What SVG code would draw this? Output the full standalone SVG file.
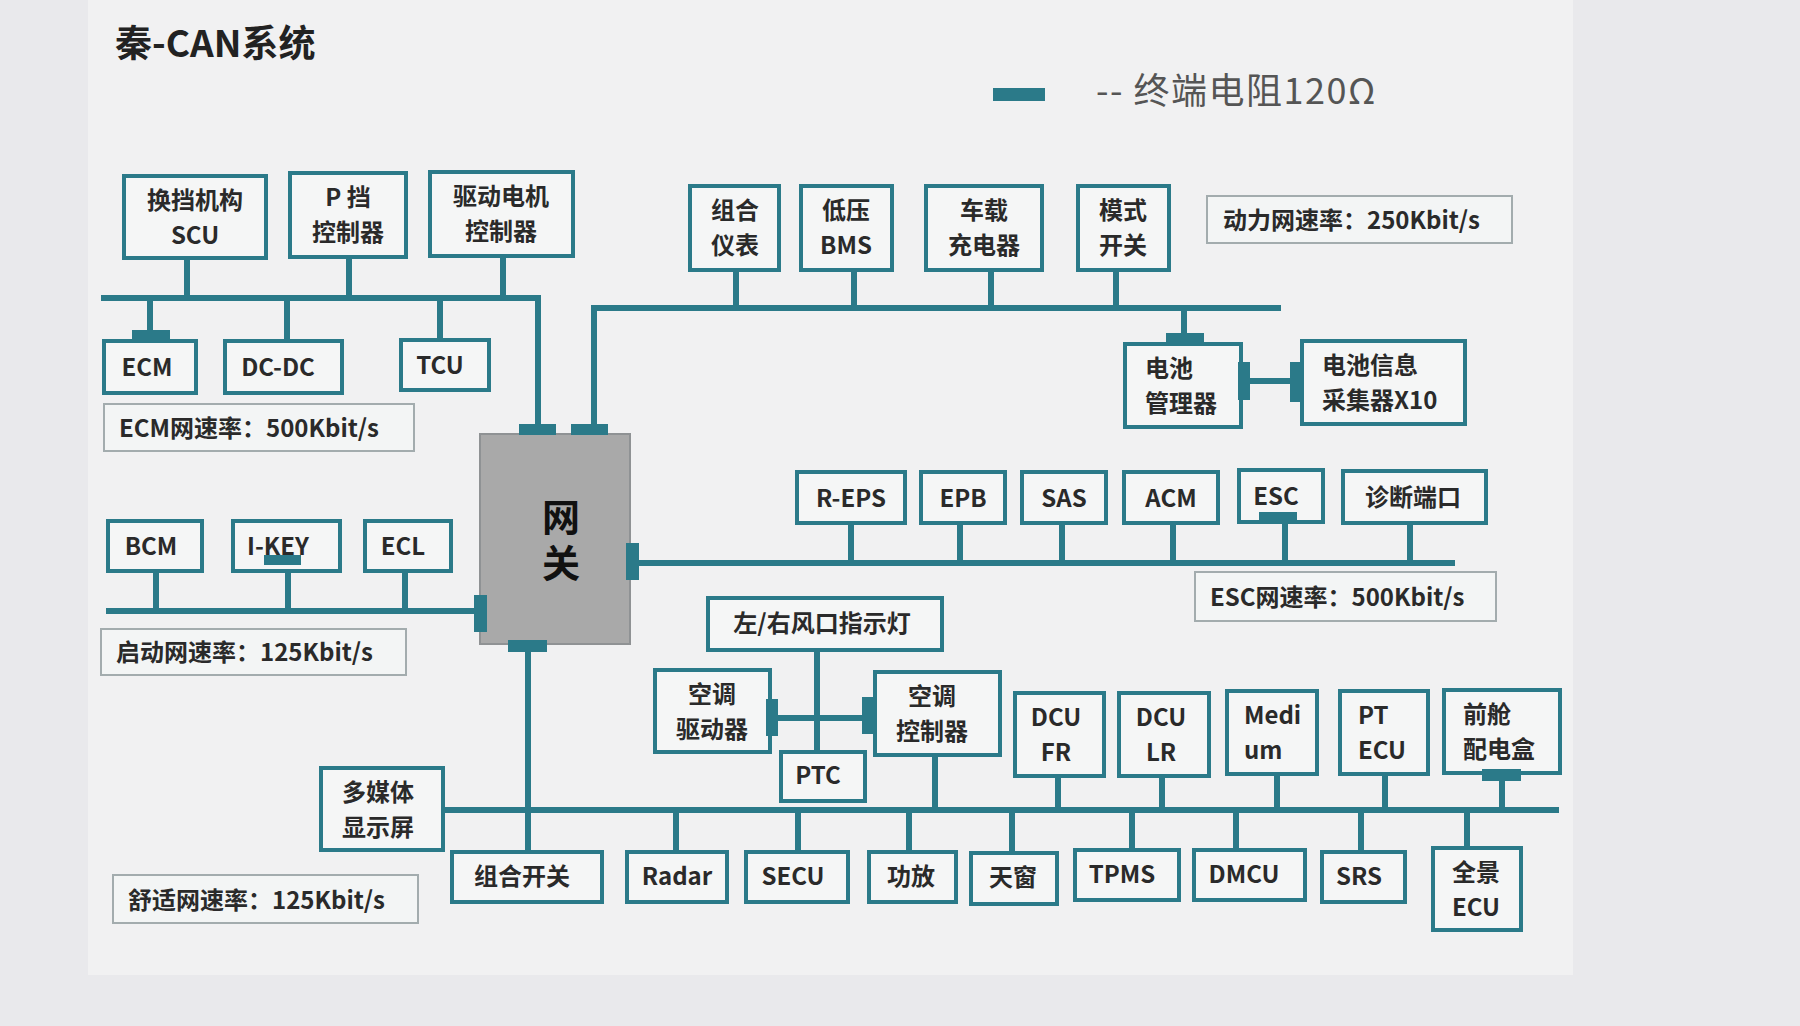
<svg xmlns="http://www.w3.org/2000/svg" width="1800" height="1026" viewBox="0 0 1800 1026">
<style>
.n rect.b{fill:#f5f6f6;stroke:#2b7a89;stroke-width:4}
.n text,.s text{font-family:"Noto Sans CJK SC","Noto Sans",sans-serif;font-weight:bold;font-size:24px;fill:#2a2a2a;text-anchor:middle}
.n text.l,.s text{text-anchor:start}
.s rect{fill:#f3f5f5;stroke:#a3acae;stroke-width:2}
.s text{font-size:24px}
.bus{stroke:#2b7a89;stroke-width:6;fill:none}
.term{fill:#2b7a89}
</style>
<rect x="0" y="0" width="1800" height="1026" fill="#e9e9ec"/>
<rect x="88" y="0" width="1485" height="975" fill="#f1f1f2"/>
<text x="115" y="57" font-family="'Noto Sans CJK SC',sans-serif" font-weight="bold" font-size="37" fill="#222">秦-CAN系统</text>
<g id="legend">
<rect x="993" y="88" width="52" height="13" class="term"/>
<text x="1096" y="104" font-family="'Noto Sans CJK SC',sans-serif" font-size="36" letter-spacing="1.5" fill="#555">-- 终端电阻120Ω</text>
</g>
<g id="connectors">
<path class="bus" d="M101 298H538V424M187 258V298M349 257V298M503 256V298M150 298V330M287 298V341M440 298V340"/>
<path class="bus" d="M594 424V308H1281M736 270V308M854 270V308M991 270V308M1116 270V308M1184 308V333M1250 381H1290"/>
<path class="bus" d="M639 563H1455M851 523V563M960 523V563M1062 523V563M1173 523V563M1285 522V563M1410 523V563"/>
<path class="bus" d="M106 611H474M156 571V611M288 571V611M405 571V611"/>
<path class="bus" d="M443 810H1559M528 652V852M676 810V852M798 810V852M909 810V852M1012 810V853M1132 810V850M1236 810V850M1361 810V852M1467 810V848M935 755V810M1058 776V810M1162 776V810M1277 774V810M1385 774V810M1502 781V810"/>
<path class="bus" d="M817 650V752M778 718H862"/>
</g>
<g id="gateway">
<rect x="480" y="434" width="150" height="210" fill="#a9a9a9" stroke="#8f9294" stroke-width="2"/>
<text x="561" y="544" writing-mode="tb" glyph-orientation-vertical="0" text-anchor="middle" letter-spacing="8" font-family="'Noto Sans CJK SC',sans-serif" font-weight="bold" font-size="38" fill="#111">网关</text>
<rect class="term" x="519" y="424" width="37" height="11"/>
<rect class="term" x="571" y="424" width="37" height="11"/>
<rect class="term" x="626" y="543" width="13" height="37"/>
<rect class="term" x="474" y="595" width="13" height="37"/>
<rect class="term" x="508" y="640" width="39" height="12"/>
</g>
<g id="scu" class="n"><rect class="b" x="124" y="176" width="142" height="82"/><text x="195" y="209">换挡机构<tspan x="195" dy="35">SCU</tspan></text></g>
<g id="pgear" class="n"><rect class="b" x="290" y="173" width="116" height="84"/><text x="348" y="206">P 挡<tspan x="348" dy="35">控制器</tspan></text></g>
<g id="motor" class="n"><rect class="b" x="430" y="172" width="143" height="84"/><text x="501" y="205">驱动电机<tspan x="501" dy="35">控制器</tspan></text></g>
<g id="ecm" class="n"><rect class="b" x="104" y="341" width="92" height="52"/><text x="147" y="376">ECM</text><rect class="term" x="132" y="330" width="38" height="11"/></g>
<g id="dcdc" class="n"><rect class="b" x="225" y="341" width="117" height="52"/><text x="278" y="376">DC-DC</text></g>
<g id="tcu" class="n"><rect class="b" x="401" y="340" width="88" height="50"/><text x="440" y="374">TCU</text></g>
<g id="ecm-speed" class="s"><rect x="104" y="404" width="310" height="47"/><text x="119" y="437">ECM网速率：500Kbit/s</text></g>
<g id="cluster" class="n"><rect class="b" x="690" y="186" width="89" height="84"/><text x="735" y="219">组合<tspan x="735" dy="35">仪表</tspan></text></g>
<g id="bms" class="n"><rect class="b" x="801" y="186" width="91" height="84"/><text x="846" y="219">低压<tspan x="846" dy="35">BMS</tspan></text></g>
<g id="charger" class="n"><rect class="b" x="926" y="186" width="116" height="84"/><text x="984" y="219">车载<tspan x="984" dy="35">充电器</tspan></text></g>
<g id="mode" class="n"><rect class="b" x="1078" y="186" width="91" height="84"/><text x="1123" y="219">模式<tspan x="1123" dy="35">开关</tspan></text></g>
<g id="bmu" class="n"><rect class="b" x="1125" y="344" width="116" height="83"/><text class="l" x="1145" y="377">电池<tspan x="1145" dy="35">管理器</tspan></text><rect class="term" x="1166" y="333" width="38" height="11"/><rect class="term" x="1238" y="362" width="12" height="38"/></g>
<g id="bic" class="n"><rect class="b" x="1302" y="341" width="163" height="83"/><text class="l" x="1322" y="374">电池信息<tspan x="1322" dy="35">采集器X10</tspan></text><rect class="term" x="1290" y="362" width="12" height="40"/></g>
<g id="power-speed" class="s"><rect x="1207" y="196" width="305" height="47"/><text x="1223" y="229">动力网速率：250Kbit/s</text></g>
<g id="reps" class="n"><rect class="b" x="797" y="472" width="108" height="51"/><text x="851" y="507">R-EPS</text></g>
<g id="epb" class="n"><rect class="b" x="921" y="472" width="84" height="51"/><text x="963" y="507">EPB</text></g>
<g id="sas" class="n"><rect class="b" x="1022" y="472" width="84" height="51"/><text x="1064" y="507">SAS</text></g>
<g id="acm" class="n"><rect class="b" x="1124" y="472" width="94" height="51"/><text x="1171" y="507">ACM</text></g>
<g id="esc" class="n"><rect class="b" x="1239" y="470" width="84" height="52"/><text x="1276" y="505">ESC</text><rect class="term" x="1259" y="512" width="38" height="10"/></g>
<g id="diag" class="n"><rect class="b" x="1343" y="471" width="143" height="52"/><text x="1413" y="506">诊断端口</text></g>
<g id="esc-speed" class="s"><rect x="1195" y="572" width="301" height="49"/><text x="1210" y="606">ESC网速率：500Kbit/s</text></g>
<g id="bcm" class="n"><rect class="b" x="108" y="521" width="94" height="50"/><text x="151" y="555">BCM</text></g>
<g id="ikey" class="n"><rect class="b" x="233" y="521" width="107" height="50"/><text x="278" y="555">I-KEY</text><rect class="term" x="264" y="555" width="37" height="10"/></g>
<g id="ecl" class="n"><rect class="b" x="365" y="521" width="86" height="50"/><text x="403" y="555">ECL</text></g>
<g id="start-speed" class="s"><rect x="101" y="629" width="305" height="46"/><text x="116" y="661">启动网速率：125Kbit/s</text></g>
<g id="vent" class="n"><rect class="b" x="708" y="598" width="234" height="52"/><text x="822" y="632">左/右风口指示灯</text></g>
<g id="acdrv" class="n"><rect class="b" x="655" y="670" width="115" height="82"/><text x="712" y="703">空调<tspan x="712" dy="35">驱动器</tspan></text><rect class="term" x="766" y="699" width="12" height="37"/></g>
<g id="acctl" class="n"><rect class="b" x="875" y="672" width="125" height="83"/><text x="932" y="705">空调<tspan x="932" dy="35">控制器</tspan></text><rect class="term" x="862" y="697" width="13" height="37"/></g>
<g id="ptc" class="n"><rect class="b" x="781" y="752" width="84" height="49"/><text x="818" y="784">PTC</text></g>
<g id="dcufr" class="n"><rect class="b" x="1015" y="693" width="89" height="83"/><text x="1056" y="726">DCU<tspan x="1056" dy="35">FR</tspan></text></g>
<g id="dculr" class="n"><rect class="b" x="1119" y="693" width="90" height="83"/><text x="1161" y="726">DCU<tspan x="1161" dy="35">LR</tspan></text></g>
<g id="medium" class="n"><rect class="b" x="1227" y="691" width="90" height="83"/><text class="l" x="1244" y="724">Medi<tspan x="1244" dy="35">um</tspan></text></g>
<g id="ptecu" class="n"><rect class="b" x="1340" y="691" width="88" height="83"/><text class="l" x="1358" y="724">PT<tspan x="1358" dy="35">ECU</tspan></text></g>
<g id="fbox" class="n"><rect class="b" x="1444" y="690" width="116" height="83"/><text class="l" x="1463" y="723">前舱<tspan x="1463" dy="35">配电盒</tspan></text><rect class="term" x="1482" y="769" width="39" height="12"/></g>
<g id="media" class="n"><rect class="b" x="321" y="768" width="122" height="82"/><text x="378" y="801">多媒体<tspan x="378" dy="35">显示屏</tspan></text></g>
<g id="combsw" class="n"><rect class="b" x="452" y="852" width="150" height="50"/><text x="522" y="885">组合开关</text></g>
<g id="radar" class="n"><rect class="b" x="627" y="852" width="100" height="50"/><text x="677" y="885">Radar</text></g>
<g id="secu" class="n"><rect class="b" x="746" y="852" width="102" height="50"/><text x="793" y="885">SECU</text></g>
<g id="amp" class="n"><rect class="b" x="869" y="852" width="87" height="50"/><text x="911" y="885">功放</text></g>
<g id="sunroof" class="n"><rect class="b" x="971" y="853" width="86" height="51"/><text x="1013" y="886">天窗</text></g>
<g id="tpms" class="n"><rect class="b" x="1075" y="850" width="104" height="50"/><text x="1122" y="883">TPMS</text></g>
<g id="dmcu" class="n"><rect class="b" x="1194" y="850" width="111" height="50"/><text x="1244" y="883">DMCU</text></g>
<g id="srs" class="n"><rect class="b" x="1322" y="852" width="83" height="50"/><text x="1359" y="885">SRS</text></g>
<g id="pano" class="n"><rect class="b" x="1433" y="848" width="88" height="82"/><text x="1476" y="881">全景<tspan x="1476" dy="35">ECU</tspan></text></g>
<g id="comfort-speed" class="s"><rect x="113" y="875" width="305" height="48"/><text x="128" y="909">舒适网速率：125Kbit/s</text></g>
</svg>
